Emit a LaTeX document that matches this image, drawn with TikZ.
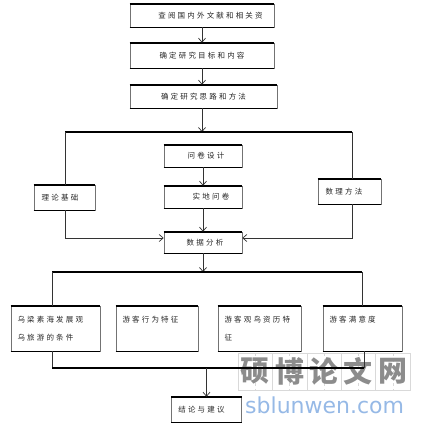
\documentclass[tikz,border=0pt]{standalone}
\usepackage{fontspec}
\newfontfamily\cjk[LetterSpace=29]{Noto Sans CJK SC}
\newfontfamily\cjkwm{Noto Sans CJK SC}
\newfontfamily\urlfont{DejaVu Sans}
\usetikzlibrary{arrows.meta}
\definecolor{wmblue}{RGB}{150,185,230}
\tikzset{
  thickedge/.style={draw=black, line width=1.6pt, -},
  bx/.style={draw=black!55, line width=0.6pt, inner sep=0pt,
    font=\cjk\fontsize{7.5}{18}\selectfont, text=black!85,
    append after command={(\tikzlastnode.north west) edge[thickedge] (\tikzlastnode.north east)
      (\tikzlastnode.south west) edge[thickedge] (\tikzlastnode.south east)}},
  lowbx/.style={bx, align=left, inner xsep=6.5pt, minimum height=45pt},
  conn/.style={draw=black!80, line width=0.7pt},
  bar/.style={draw=black, line width=1.6pt},
  arr/.style={conn, -{Straight Barb[length=4pt,width=7pt]}},
  wmcell/.style={draw=black!15, line width=0.5pt},
  wmchar/.style={font=\cjkwm\bfseries\fontsize{29}{29}\selectfont, text=black!45, inner sep=0pt},
}
\begin{document}
\begin{tikzpicture}[x=1pt,y=-1pt]
\useasboundingbox (0,0) rectangle (428,424);
% watermark grid
\foreach \i in {0,...,4}{
  \draw[wmcell] ({238+34.4*\i},353) rectangle ({272.4+34.4*\i},390);
  \draw[wmcell,dashed] ({255.2+34.4*\i},353) -- ({255.2+34.4*\i},390);
}
\node[wmchar] (wm1) at (255.2,371.5) {硕};
\node[wmchar] (wm2) at (289.6,371.5) {博};
\node[wmchar] (wm3) at (324.0,371.5) {论};
\node[wmchar] (wm4) at (358.4,371.5) {文};
\node[wmchar] (wm5) at (392.8,371.5) {网};
\node[anchor=base west, inner sep=0pt, font=\urlfont\fontsize{22}{22}\selectfont, text=wmblue] (wmurl) at (245,413) {sblunwen.com};

% boxes
\node[bx, minimum width=144pt, minimum height=23pt] (b1) at (202,15.5) {\hspace*{17pt}查阅国内外文献和相关资};
\node[bx, minimum width=144pt, minimum height=25pt] (b2) at (202,55.5) {确定研究目标和内容};
\node[bx, minimum width=147pt, minimum height=23pt] (b3) at (203.5,96.5) {确定研究思路和方法};
\node[bx, minimum width=78pt, minimum height=22pt] (wj) at (203,156) {\hspace*{6pt}问卷设计};
\node[bx, minimum width=78pt, minimum height=22pt] (sd) at (203,197) {\hspace*{16pt}实地问卷};
\node[bx, minimum width=78pt, minimum height=21pt] (sj) at (203,242.5) {\hspace*{4pt}数据分析};
\node[bx, minimum width=61pt, minimum height=25pt] (lilun) at (64.5,197.5) {理论基础\hspace*{9pt}};
\node[bx, minimum width=63pt, minimum height=25pt] (shuli) at (349.5,191.5) {数理方法\hspace*{11pt}};
\node[lowbx, text width=76pt] (bA) at (55.5,328.5) {乌梁素海发展观\\乌旅游的条件};
\node[lowbx, text width=69pt] (bB) at (157,328.5) {游客行为特征\\\mbox{}};
\node[lowbx, text width=70pt] (bC) at (259.5,328.5) {游客观鸟资历特\\征};
\node[lowbx, text width=66pt] (bD) at (362.5,328.5) {游客满意度\\\mbox{}};
\node[bx, minimum width=70pt, minimum height=25pt] (concl) at (206.5,409.5) {结论与建议\hspace*{10pt}};

% junctions
\coordinate (j1) at (202,132);
\coordinate (jl) at (65,132);
\coordinate (jr) at (352,132);
\coordinate (j2) at (203,272);
\coordinate (kl) at (52,272);
\coordinate (kr) at (362,272);
\coordinate (ml) at (52,368);
\coordinate (mr) at (364,368);
\coordinate (m) at (206.5,368);

% connectors
\draw[arr] (b1.south -| b1) -- (b2);
\draw[arr] (b2) -- (b3.north -| b2);
\draw[arr] (b3.south -| j1) -- (j1);
\draw[bar] (jl) -- (jr);
\draw[conn] (jl) -- (jl |- lilun.north);
\draw[conn] (jr) -- (jr |- shuli.north);
\draw[arr] (wj) -- (sd);
\draw[arr] (sd) -- (sj);
\draw[arr] (lilun.south -| jl) |- ([yshift=4.5pt]sj.west);
\draw[arr] (shuli.south -| jr) |- ([yshift=4.5pt]sj.east);
\draw[arr] (sj) -- (j2);
\draw[bar] (kl) -- (kr);
\draw[conn] (kl) -- (kl |- bA.north);
\draw[conn] (kr) -- (kr |- bD.north);
\draw[conn] (bA.south -| ml) -- (ml);
\draw[conn] (bD.south -| mr) -- (mr);
\draw[bar] (ml) -- (mr);
\draw[arr] (m) -- (concl);
\end{tikzpicture}
\end{document}
